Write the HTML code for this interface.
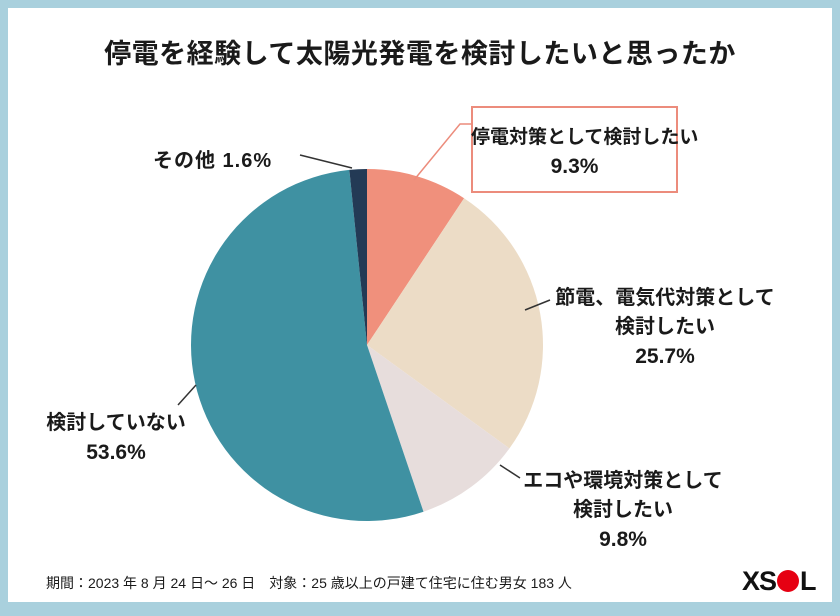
<!DOCTYPE html>
<html><head><meta charset="utf-8"><style>
body{margin:0;width:840px;height:616px;background:#a9d0dd;font-family:"Liberation Sans","Noto Sans CJK JP",sans-serif;overflow:hidden}
#panel{position:absolute;left:8px;top:8px;width:824px;height:594px;background:#fff}
.t{position:absolute;font-weight:bold;color:#1a1a1a;text-align:center;white-space:nowrap}
</style></head><body>
<div id="panel"></div>
<div class="t" style="left:0;width:840px;top:32px;font-size:27px;letter-spacing:0.5px">停電を経験して太陽光発電を検討したいと思ったか</div>
<svg id="pie" width="840" height="616" style="position:absolute;left:0;top:0"></svg>
<div style="position:absolute;left:471px;top:106px;width:203px;height:83px;border:2px solid #ec8c7c;background:#fff"></div>
<div class="t" style="left:471px;width:207px;top:123px;font-size:19px;line-height:29px">停電対策として検討したい<br><span style="font-size:21px">9.3%</span></div>
<div class="t" style="left:545px;width:240px;top:284px;font-size:20px;line-height:29px">節電、電気代対策として<br>検討したい<br><span style="font-size:21px">25.7%</span></div>
<div class="t" style="left:503px;width:240px;top:467px;font-size:20px;line-height:29px">エコや環境対策として<br>検討したい<br><span style="font-size:21px">9.8%</span></div>
<div class="t" style="left:36px;width:160px;top:409px;font-size:20px;line-height:29px">検討していない<br><span style="font-size:21px">53.6%</span></div>
<div class="t" style="left:153px;top:144px;font-size:20px;letter-spacing:1px">その他 1.6%</div>
<div class="t" style="left:46px;top:573px;font-size:14px;font-weight:normal">期間：2023 年 8 月 24 日～ 26 日　対象：25 歳以上の戸建て住宅に住む男女 183 人</div>
<div style="position:absolute;left:742px;top:566px;font-size:27px;font-weight:900;letter-spacing:-1px;color:#111;font-family:'Liberation Sans',sans-serif">XS<span style="display:inline-block;width:22px;height:22px;border-radius:50%;background:#e60012;vertical-align:-2px;margin:0 1px"></span>L</div>
<script>
const categories=["停電対策として検討したい","節電、電気代対策として検討したい","エコや環境対策として検討したい","検討していない","その他"];
const values=[9.3,25.7,9.8,53.6,1.6];
const colors=["#f0907c","#ecdcc6","#e7dddc","#3f91a2","#233a55"];
const svg=document.getElementById('pie');
const NS="http://www.w3.org/2000/svg";
const cx=367,cy=345,r=176;
const total=values.reduce((a,b)=>a+b,0);
let a0=0;
function pt(a){return [cx+r*Math.sin(a),cy-r*Math.cos(a)];}
values.forEach((v,i)=>{
  const a1=a0+v/total*2*Math.PI;
  const [x0,y0]=pt(a0),[x1,y1]=pt(a1);
  const p=document.createElementNS(NS,'path');
  p.setAttribute('d',`M${cx},${cy}L${x0},${y0}A${r},${r} 0 ${a1-a0>Math.PI?1:0} 1 ${x1},${y1}Z`);
  p.setAttribute('fill',colors[i]);
  
  
  svg.appendChild(p);
  a0=a1;
});
function line(d,c){const l=document.createElementNS(NS,'path');l.setAttribute('d',d);l.setAttribute('stroke',c);l.setAttribute('stroke-width','1.5');l.setAttribute('fill','none');


svg.appendChild(l);}
line("M414,180L460,124L471,124","#ec8c7c");
line("M525,310L550,300","#333");
line("M500,465L520,478","#333");
line("M196,385L178,405","#333");
line("M352,168L300,155","#333");
</script>
</body></html>
